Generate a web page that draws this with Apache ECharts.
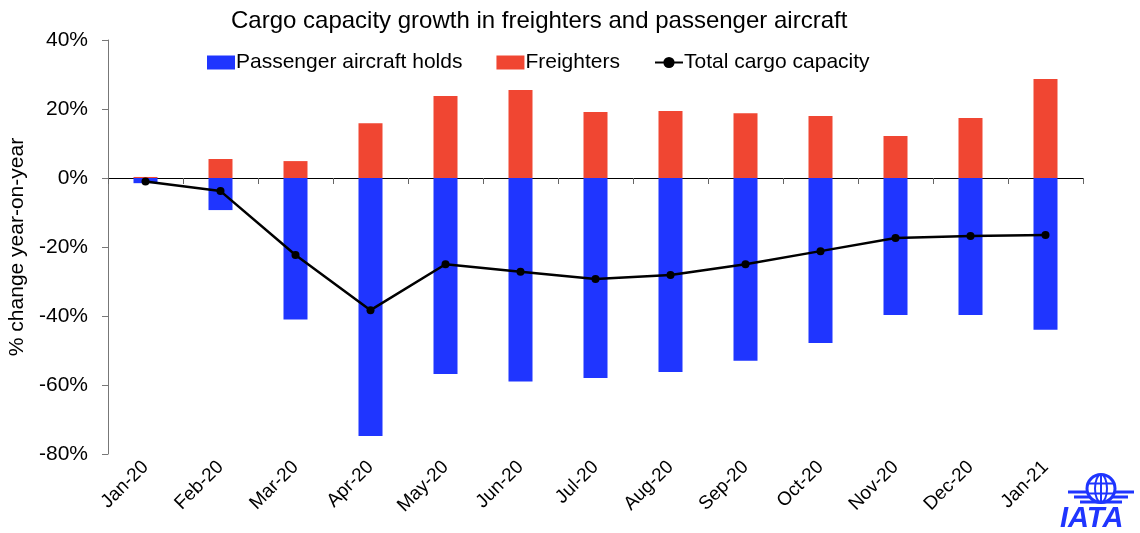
<!DOCTYPE html>
<html>
<head>
<meta charset="utf-8">
<title>Cargo capacity</title>
<script src="https://cdn.jsdelivr.net/npm/echarts@6/dist/echarts.min.js"></script>
<style>
  html, body { margin: 0; padding: 0; background: #fff; }
  #main { width: 1140px; height: 533px; }
</style>
</head>
<body>
<div id="main"></div>
<script>
// categories and values (% change year-on-year)
var months = ['Jan-20', 'Feb-20', 'Mar-20', 'Apr-20', 'May-20', 'Jun-20', 'Jul-20',
              'Aug-20', 'Sep-20', 'Oct-20', 'Nov-20', 'Dec-20', 'Jan-21'];
var passengerHolds = [-1.5, -9.3, -41.0, -74.8, -56.8, -59.0, -58.0, -56.2, -53.0, -47.8, -39.7, -39.7, -44.0];
var freighters = [0.3, 5.5, 4.9, 15.9, 23.8, 25.5, 19.1, 19.4, 18.8, 18.0, 12.2, 17.4, 28.7];
var totalCapacity = [-1.0, -3.8, -22.3, -38.3, -25.0, -27.2, -29.3, -28.1, -25.0, -21.2, -17.4, -16.8, -16.5];
var yTicks = { min: -80, max: 40, interval: 20 };

var font = 'Liberation Sans, Arial, sans-serif';
var blue = '#1f35ff';
var chart = echarts.init(document.getElementById('main'));
chart.setOption({
  animation: false,
  textStyle: { fontFamily: font },
  title: {
    text: 'Cargo capacity growth in freighters and passenger aircraft',
    left: 226, top: 4,
    textStyle: { fontSize: 24, fontWeight: 'normal', color: '#000', fontFamily: font }
  },
  legend: {
    left: 202, top: 47,
    itemWidth: 28, itemHeight: 14, itemGap: 34,
    textStyle: { fontSize: 21, color: '#000', fontFamily: font, padding: [0, 0, 0, -4] },
    data: [
      { name: 'Passenger aircraft holds', icon: 'rect' },
      { name: 'Freighters', icon: 'rect' },
      { name: 'Total cargo capacity' }
    ]
  },
  grid: { left: 108, right: 57, top: 40, bottom: 79, containLabel: false, outerBoundsMode: 'none' },
  xAxis: [
    {
      type: 'category', data: months,
      axisLine: { show: false, onZero: false }, axisTick: { show: false },
      axisLabel: { rotate: 45, fontSize: 19, color: '#000', margin: 10, interval: 0 }
    },
    {
      type: 'category', data: months, position: 'bottom',
      axisLine: { onZero: true, lineStyle: { color: '#000', width: 1 } },
      axisTick: { show: true, inside: false, length: 6, lineStyle: { color: '#666' } },
      axisLabel: { show: false }
    }
  ],
  yAxis: {
    type: 'value', min: yTicks.min, max: yTicks.max, interval: yTicks.interval,
    name: '% change year-on-year', nameLocation: 'middle', nameGap: 80,
    nameTextStyle: { fontSize: 21, color: '#000' },
    axisLine: { show: true, lineStyle: { color: '#777' } },
    axisTick: { show: true, length: 6, lineStyle: { color: '#777' } },
    axisLabel: { fontSize: 21, color: '#000', margin: 20, formatter: '{value}%' },
    splitLine: { show: false }
  },
  series: [
    {
      name: 'Passenger aircraft holds', type: 'bar', stack: 'cap', barWidth: 24,
      itemStyle: { color: blue }, data: passengerHolds
    },
    {
      name: 'Freighters', type: 'bar', stack: 'cap', barWidth: 24,
      itemStyle: { color: '#f04632' }, data: freighters
    },
    {
      name: 'Total cargo capacity', type: 'line', symbol: 'circle', symbolSize: 8,
      lineStyle: { color: '#000', width: 2.5 }, itemStyle: { color: '#000' },
      data: totalCapacity, z: 5
    }
  ],
  graphic: [
    {
      type: 'group', left: 1060, top: 472,
      children: [
        { type: 'circle', shape: { cx: 47, cy: 15, r: 14 }, style: { fill: 'none', stroke: blue, lineWidth: 3 } },
        { type: 'ellipse', shape: { cx: 47, cy: 15, rx: 6, ry: 14 }, style: { fill: 'none', stroke: blue, lineWidth: 2 } },
        { type: 'line', shape: { x1: 33, y1: 10, x2: 61, y2: 10 }, style: { stroke: blue, lineWidth: 2 } },
        { type: 'line', shape: { x1: 33, y1: 20, x2: 61, y2: 20 }, style: { stroke: blue, lineWidth: 2 } },
        { type: 'line', shape: { x1: 47, y1: 1, x2: 47, y2: 29 }, style: { stroke: blue, lineWidth: 2 } },
        { type: 'rect', shape: { x: 14, y: 17, width: 20, height: 3 }, style: { fill: blue } },
        { type: 'rect', shape: { x: 60, y: 17, width: 20, height: 3 }, style: { fill: blue } },
        { type: 'rect', shape: { x: 20, y: 22, width: 16, height: 3 }, style: { fill: blue } },
        { type: 'rect', shape: { x: 58, y: 22, width: 16, height: 3 }, style: { fill: blue } },
        { type: 'rect', shape: { x: 26, y: 27, width: 42, height: 3 }, style: { fill: blue } },
        { type: 'text', x: 6, y: 31, style: { text: 'IATA', fontSize: 29, fontWeight: 'bold', fontStyle: 'italic', fill: blue, fontFamily: font } }
      ]
    }
  ]
});
</script>
</body>
</html>
